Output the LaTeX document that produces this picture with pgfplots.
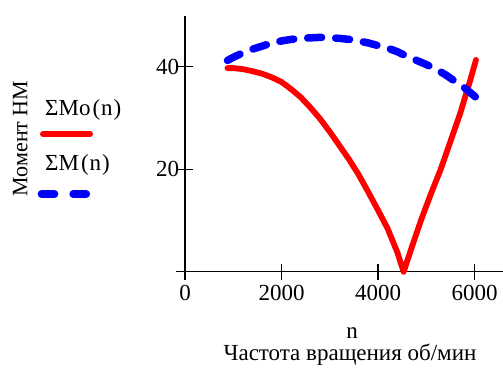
\documentclass[border=0pt]{standalone}
\usepackage{pgfplots}
\pgfplotsset{compat=1.18}
\usepackage{fontspec}
\setmainfont{Liberation Serif}
\definecolor{mred}{RGB}{255,0,0}
\definecolor{mblue}{RGB}{0,0,255}
\pgfplotstableread{
n M
880 39.7
1000 39.7
1200 39.5
1400 39.1
1600 38.6
1800 37.9
2000 37.0
2200 35.6
2400 34.0
2600 32.0
2800 29.8
3000 27.3
3200 24.6
3400 21.9
3600 18.9
3800 15.5
4000 12.0
4200 8.4
4400 3.8
4530 0.0
4700 4.8
4900 10.3
5100 15.3
5300 20.0
5500 25.4
5700 30.8
5900 37.0
6030 41.3
}\Mo
\pgfplotstableread{
n M
880 41.2
1000 41.8
1200 42.7
1400 43.4
1600 44.0
1800 44.6
2000 45.0
2200 45.3
2400 45.5
2600 45.6
2800 45.7
3000 45.6
3200 45.5
3400 45.3
3600 45.0
3800 44.6
4000 44.1
4200 43.6
4400 42.9
4600 42.0
4800 41.2
5000 40.4
5200 39.5
5400 38.4
5600 37.1
5800 35.8
6030 34.0
}\Msum
\begin{document}
\fontsize{23}{27}\selectfont
\begin{tikzpicture}[x=1pt,y=1pt]
\useasboundingbox (0pt,0pt) rectangle (503pt,368pt);
\begin{axis}[
  at={(176pt,88pt)}, anchor=south west,
  scale only axis, width=327pt, height=264pt,
  xmin=-187, xmax=6590, ymin=-1.6, ymax=49.86,
  axis lines=middle,
  axis line style={-, line width=1.2pt},
  every tick/.style={black, line width=1.2pt},
  major tick length=16pt, tick align=center,
  xtick={0,2000,4000,6000}, ytick={20,40},
  hide obscured x ticks=false,
  /pgf/number format/assume math mode=true,
  /pgf/number format/1000 sep={},
  tick label style={font=\fontsize{23}{27}\selectfont},
  xticklabel style={anchor=north, yshift=2pt},
  yticklabel style={anchor=east, xshift=10pt},
  clip=false,
]
\addplot[mred, line width=5.8pt, line join=round, line cap=round] table[x=n,y=M] {\Mo};
\addplot[mblue, line width=7.5pt, line join=round, line cap=round, dash pattern=on 14pt off 14pt] table[x=n,y=M] {\Msum};
\end{axis}
\node[anchor=base west, inner sep=0] at (45pt,253pt) {ΣMo\kern2pt(\kern1pt n\kern1pt)};
\draw[mred, line width=6pt, line cap=round] (43pt,234pt) -- (90pt,234pt);
\node[anchor=base west, inner sep=0] at (45pt,198pt) {ΣM\kern2pt(\kern1pt n\kern1pt)};
\draw[mblue, line width=7.7pt, line cap=round, dash pattern=on 13pt off 18.7pt] (41.5pt,174pt) -- (86.2pt,174pt);
\node[rotate=90, anchor=base, inner sep=0, font=\fontsize{22}{26}\selectfont] at (27.5pt,229.6pt) {Момент НМ};
\node[anchor=base, inner sep=0] at (352pt,30pt) {n};
\node[anchor=base, inner sep=0] at (350pt,8pt) {Частота вращения об/мин};
\end{tikzpicture}
\end{document}
